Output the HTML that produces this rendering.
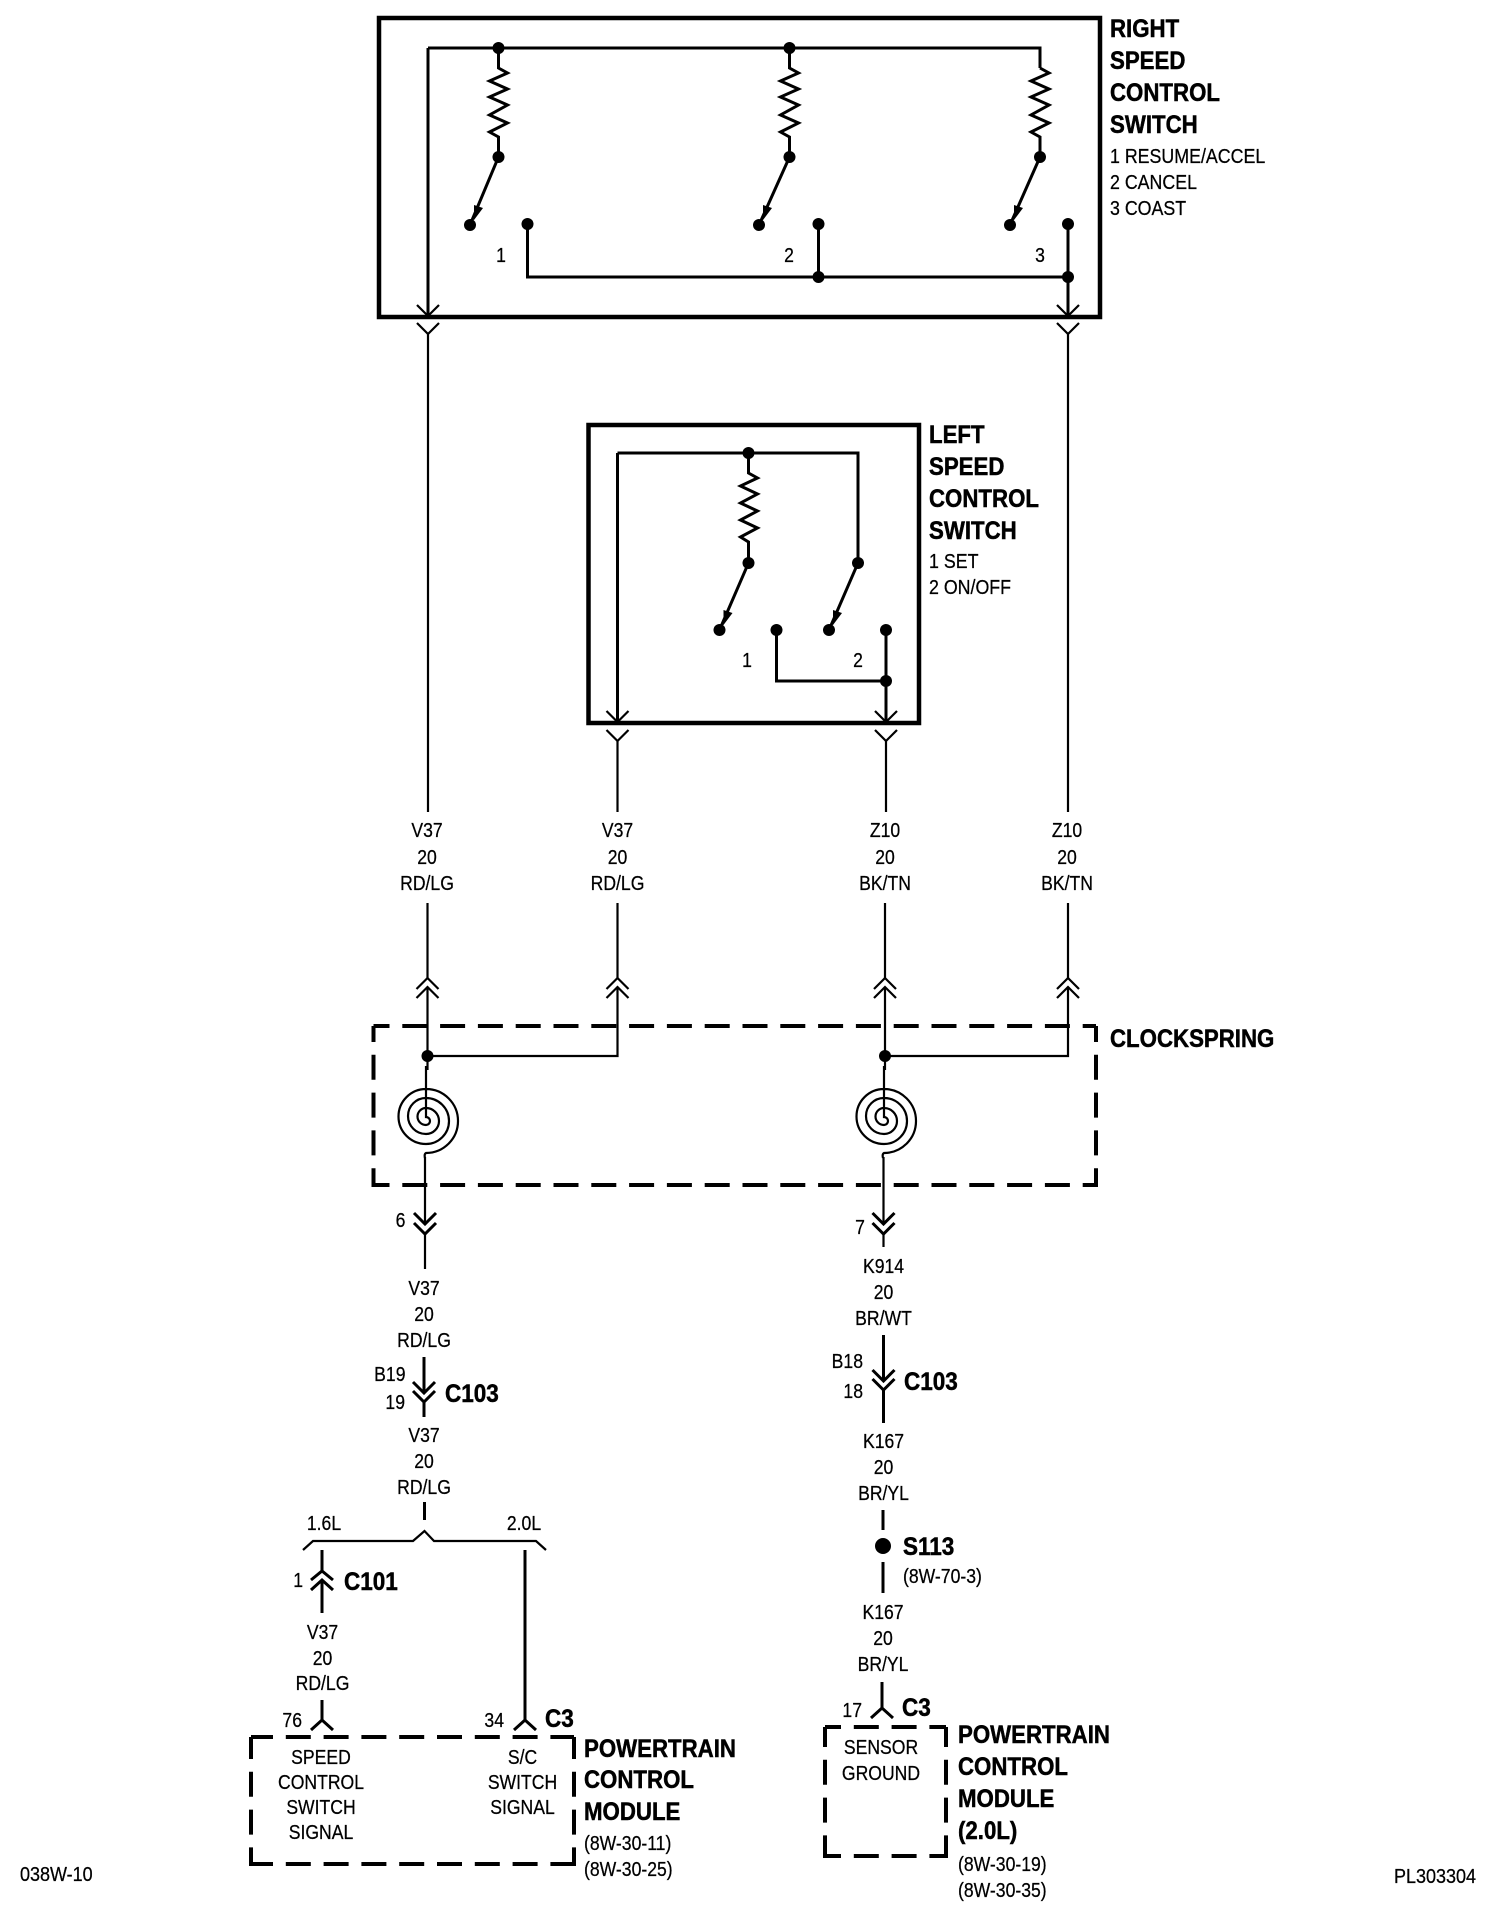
<!DOCTYPE html>
<html><head><meta charset="utf-8"><style>
html,body{margin:0;padding:0;background:#fff}
svg{display:block}
text{font-family:"Liberation Sans",sans-serif;font-size:20px;fill:#000;stroke:#000;stroke-width:.25}
.b{font-weight:bold;font-size:25px;stroke:#000;stroke-width:.5}
.m{text-anchor:middle}
.e{text-anchor:end}
.w{fill:none;stroke:#000;stroke-width:2.2}
.h{fill:none;stroke:#000;stroke-width:3}
.x{fill:none;stroke:#000;stroke-width:4.5}
.d{fill:none;stroke:#000;stroke-width:4;stroke-dasharray:25 12.8}
</style></head><body>
<svg width="1504" height="1920" viewBox="0 0 1504 1920" xmlns="http://www.w3.org/2000/svg">
<defs>
<g id="n"><circle r="6" fill="#000"/></g>
<path id="y" class="w" d="M-11,0L0,11L11,0"/>
<polygon id="ah" points="4,-5 4,-20 13,-17" fill="#000"/>
<path id="sp" class="w" d="M-2,-55V-4A4,4 0 0 1 -2,4A8.5,8.5 0 0 1 -2,-13A13,13 0 0 1 -2,13A18,18 0 0 1 -2,-23A23,23 0 0 1 -2,23A27.5,27.5 0 0 1 -2,-32A32,32 0 0 1 -2,32Q-4,33 -3,37"/>
</defs>

<!-- Right switch -->
<rect x="379" y="18" width="721" height="299" class="x"/>
<path class="h" d="M428,48H1040V68M428,48V316"/>
<path class="h" d="M498.5,48V68L507.5,73L489.5,81L507.5,89L489.5,97L507.5,105L489.5,115L507.5,123L489.5,132L498.5,137V157L470,225"/>
<path class="h" d="M789.5,48V68L798.5,73L780.5,81L798.5,89L780.5,97L798.5,105L780.5,115L798.5,123L780.5,132L789.5,137V157L759,225"/>
<path class="h" d="M1040,68L1049,73L1031,81L1049,89L1031,97L1049,105L1031,115L1049,123L1031,132L1040,137V157L1010,225"/>
<use href="#n" x="498.5" y="48"/><use href="#n" x="789.5" y="48"/>
<use href="#n" x="498.5" y="157"/><use href="#n" x="789.5" y="157"/><use href="#n" x="1040" y="157"/>
<use href="#n" x="470" y="225"/><use href="#n" x="759" y="225"/><use href="#n" x="1010" y="225"/>
<use href="#ah" x="470" y="225"/><use href="#ah" x="759" y="225"/><use href="#ah" x="1010" y="225"/>
<use href="#n" x="527.5" y="224"/><use href="#n" x="818.5" y="224"/><use href="#n" x="1068" y="224"/>
<path class="h" d="M527.5,224V277H1068M818.5,224V277M1068,224V316"/>
<use href="#n" x="818.5" y="277"/><use href="#n" x="1068" y="277"/>
<use href="#y" x="428" y="305"/><use href="#y" x="1068" y="305"/>
<use href="#y" x="428" y="323"/><use href="#y" x="1068" y="323"/>
<path class="w" d="M428,334V812M1068,334V812"/>
<text transform="translate(501,262) scale(.88,1)" class="m">1</text>
<text transform="translate(789,262) scale(.88,1)" class="m">2</text>
<text transform="translate(1040,262) scale(.88,1)" class="m">3</text>
<text transform="translate(1110,37) scale(.89,1)" class="b">RIGHT</text>
<text transform="translate(1110,69) scale(.89,1)" class="b">SPEED</text>
<text transform="translate(1110,101) scale(.89,1)" class="b">CONTROL</text>
<text transform="translate(1110,133) scale(.89,1)" class="b">SWITCH</text>
<text transform="translate(1110,163) scale(.89,1)">1 RESUME/ACCEL</text>
<text transform="translate(1110,189) scale(.89,1)">2 CANCEL</text>
<text transform="translate(1110,215) scale(.89,1)">3 COAST</text>

<!-- Left switch -->
<rect x="588.5" y="425" width="330.5" height="298" class="x"/>
<path class="h" d="M617.5,453H858V563L829,630M617.5,453V723"/>
<path class="h" d="M748.5,453V473L757.5,478L740.5,486L757.5,494L740.5,503L757.5,511L740.5,520L757.5,528L740.5,537L748.5,542V563L719.5,630"/>
<use href="#n" x="748.5" y="453"/><use href="#n" x="748.5" y="563"/><use href="#n" x="858" y="563"/>
<use href="#n" x="719.5" y="630"/><use href="#n" x="829" y="630"/>
<use href="#ah" x="719.5" y="630"/><use href="#ah" x="829" y="630"/>
<use href="#n" x="776.5" y="630"/><use href="#n" x="886" y="630"/>
<path class="h" d="M776.5,630V681H886M886,630V723"/>
<use href="#n" x="886" y="681"/>
<use href="#y" x="617.5" y="711"/><use href="#y" x="886" y="711"/>
<use href="#y" x="617.5" y="730"/><use href="#y" x="886" y="730"/>
<path class="w" d="M617.5,741V812M886,741V812"/>
<text transform="translate(747,667) scale(.88,1)" class="m">1</text>
<text transform="translate(858,667) scale(.88,1)" class="m">2</text>
<text transform="translate(929,443) scale(.89,1)" class="b">LEFT</text>
<text transform="translate(929,475) scale(.89,1)" class="b">SPEED</text>
<text transform="translate(929,507) scale(.89,1)" class="b">CONTROL</text>
<text transform="translate(929,539) scale(.89,1)" class="b">SWITCH</text>
<text transform="translate(929,568) scale(.89,1)">1 SET</text>
<text transform="translate(929,594) scale(.89,1)">2 ON/OFF</text>

<!-- Wire labels upper -->
<text transform="translate(427,837) scale(.88,1)" class="m">V37</text>
<text transform="translate(427,864) scale(.88,1)" class="m">20</text>
<text transform="translate(427,890) scale(.88,1)" class="m">RD/LG</text>
<text transform="translate(617.5,837) scale(.88,1)" class="m">V37</text>
<text transform="translate(617.5,864) scale(.88,1)" class="m">20</text>
<text transform="translate(617.5,890) scale(.88,1)" class="m">RD/LG</text>
<text transform="translate(885,837) scale(.88,1)" class="m">Z10</text>
<text transform="translate(885,864) scale(.88,1)" class="m">20</text>
<text transform="translate(885,890) scale(.88,1)" class="m">BK/TN</text>
<text transform="translate(1067,837) scale(.88,1)" class="m">Z10</text>
<text transform="translate(1067,864) scale(.88,1)" class="m">20</text>
<text transform="translate(1067,890) scale(.88,1)" class="m">BK/TN</text>

<!-- Clockspring -->
<path class="w" d="M427.5,903V978M427.5,987V1070M617.5,903V978M617.5,987V1056H427.5M885,903V978M885,987V1070M1068,903V978M1068,987V1056H885"/>
<path class="w" d="M416.5,989L427.5,978L438.5,989M416.5,998L427.5,987L438.5,998"/>
<path class="w" d="M606.5,989L617.5,978L628.5,989M606.5,998L617.5,987L628.5,998"/>
<path class="w" d="M874,989L885,978L896,989M874,998L885,987L896,998"/>
<path class="w" d="M1057,989L1068,978L1079,989M1057,998L1068,987L1079,998"/>
<use href="#n" x="427.5" y="1056"/><use href="#n" x="885" y="1056"/>
<use href="#sp" x="428" y="1121"/><use href="#sp" x="886" y="1121"/>
<path class="d" style="stroke-dashoffset:9" d="M373.5,1026H1096"/>
<path class="d" style="stroke-dashoffset:9" d="M373.5,1185H1096"/>
<path class="d" style="stroke-dashoffset:9" d="M373.5,1026V1187"/>
<path class="d" style="stroke-dashoffset:9" d="M1096,1026V1187"/>
<path class="w" d="M425,1157V1224M425,1234V1269M883.5,1157V1224M883.5,1234V1247"/>
<path class="h" d="M414,1213L425,1224L436,1213M414,1223L425,1234L436,1223M872.5,1213L883.5,1224L894.5,1213M872.5,1223L883.5,1234L894.5,1223"/>
<text transform="translate(1110,1047) scale(.89,1)" class="b">CLOCKSPRING</text>
<text transform="translate(400.5,1227) scale(.88,1)" class="m">6</text>
<text transform="translate(860,1234) scale(.88,1)" class="m">7</text>

<!-- Left chain -->
<text transform="translate(424,1295) scale(.88,1)" class="m">V37</text>
<text transform="translate(424,1321) scale(.88,1)" class="m">20</text>
<text transform="translate(424,1347) scale(.88,1)" class="m">RD/LG</text>
<path class="h" d="M424,1357V1393M424,1402V1417M413,1382L424,1393L435,1382M413,1391L424,1402L435,1391"/>
<text transform="translate(405.5,1381) scale(.88,1)" class="e">B19</text>
<text transform="translate(405,1409) scale(.88,1)" class="e">19</text>
<text transform="translate(445,1402) scale(.9,1)" class="b">C103</text>
<text transform="translate(424,1442) scale(.88,1)" class="m">V37</text>
<text transform="translate(424,1468) scale(.88,1)" class="m">20</text>
<text transform="translate(424,1494) scale(.88,1)" class="m">RD/LG</text>
<path class="h" d="M424.5,1502V1520"/>

<!-- Bracket -->
<path class="w" d="M303,1550L313,1541H413L424.5,1531L434,1541H536L546,1550"/>
<text transform="translate(324,1530) scale(.88,1)" class="m">1.6L</text>
<text transform="translate(524,1530) scale(.88,1)" class="m">2.0L</text>

<!-- C101 -->
<path class="h" d="M322,1550V1571M322,1580V1613M311,1580L322,1571L333,1580M311,1590L322,1580L333,1590"/>
<text transform="translate(303,1587) scale(.88,1)" class="e">1</text>
<text transform="translate(344,1590) scale(.9,1)" class="b">C101</text>
<text transform="translate(322.5,1639) scale(.88,1)" class="m">V37</text>
<text transform="translate(322.5,1665) scale(.88,1)" class="m">20</text>
<text transform="translate(322.5,1690) scale(.88,1)" class="m">RD/LG</text>
<path class="h" d="M322,1700V1720M311,1730L322,1720L333,1730"/>
<path class="h" d="M525,1550V1720M514,1730L525,1720L536,1730"/>
<text transform="translate(302,1727) scale(.88,1)" class="e">76</text>
<text transform="translate(504,1727) scale(.88,1)" class="e">34</text>
<text transform="translate(545,1727) scale(.9,1)" class="b">C3</text>

<!-- PCM left -->
<path class="d" style="stroke-dashoffset:3" d="M251,1737H574"/>
<path class="d" style="stroke-dashoffset:3" d="M251,1864H574"/>
<path class="d" style="stroke-dashoffset:3" d="M251,1737V1866"/>
<path class="d" style="stroke-dashoffset:3" d="M574,1737V1866"/>
<text transform="translate(321,1764) scale(.88,1)" class="m">SPEED</text>
<text transform="translate(321,1789) scale(.88,1)" class="m">CONTROL</text>
<text transform="translate(321,1814) scale(.88,1)" class="m">SWITCH</text>
<text transform="translate(321,1839) scale(.88,1)" class="m">SIGNAL</text>
<text transform="translate(522.5,1764) scale(.88,1)" class="m">S/C</text>
<text transform="translate(522.5,1789) scale(.88,1)" class="m">SWITCH</text>
<text transform="translate(522.5,1814) scale(.88,1)" class="m">SIGNAL</text>
<text transform="translate(584,1757) scale(.89,1)" class="b">POWERTRAIN</text>
<text transform="translate(584,1788) scale(.89,1)" class="b">CONTROL</text>
<text transform="translate(584,1820) scale(.89,1)" class="b">MODULE</text>
<text transform="translate(584,1850) scale(.88,1)">(8W-30-11)</text>
<text transform="translate(584,1876) scale(.88,1)">(8W-30-25)</text>

<!-- Right chain -->
<text transform="translate(883.5,1273) scale(.88,1)" class="m">K914</text>
<text transform="translate(883.5,1299) scale(.88,1)" class="m">20</text>
<text transform="translate(883.5,1325) scale(.88,1)" class="m">BR/WT</text>
<path class="h" d="M883.5,1335V1381M883.5,1390V1423M872.5,1370L883.5,1381L894.5,1370M872.5,1379L883.5,1390L894.5,1379"/>
<text transform="translate(863,1368) scale(.88,1)" class="e">B18</text>
<text transform="translate(863,1398) scale(.88,1)" class="e">18</text>
<text transform="translate(904,1390) scale(.9,1)" class="b">C103</text>
<text transform="translate(883.5,1448) scale(.88,1)" class="m">K167</text>
<text transform="translate(883.5,1474) scale(.88,1)" class="m">20</text>
<text transform="translate(883.5,1500) scale(.88,1)" class="m">BR/YL</text>
<path class="h" d="M883,1510V1530M883,1562V1593"/>
<circle cx="883" cy="1546" r="8" fill="#000"/>
<text transform="translate(903,1555) scale(.9,1)" class="b">S113</text>
<text transform="translate(903,1583) scale(.88,1)">(8W-70-3)</text>
<text transform="translate(883,1619) scale(.88,1)" class="m">K167</text>
<text transform="translate(883,1645) scale(.88,1)" class="m">20</text>
<text transform="translate(883,1671) scale(.88,1)" class="m">BR/YL</text>
<path class="h" d="M882,1682V1708M871,1718L882,1708L893,1718"/>
<text transform="translate(862,1717) scale(.88,1)" class="e">17</text>
<text transform="translate(902,1716) scale(.9,1)" class="b">C3</text>

<!-- PCM right -->
<path class="d" style="stroke-dashoffset:9" d="M825,1727H946"/>
<path class="d" style="stroke-dashoffset:9" d="M825,1856H946"/>
<path class="d" style="stroke-dashoffset:5" d="M825,1727V1858"/>
<path class="d" style="stroke-dashoffset:5" d="M946,1727V1858"/>
<text transform="translate(881,1754) scale(.88,1)" class="m">SENSOR</text>
<text transform="translate(881,1780) scale(.88,1)" class="m">GROUND</text>
<text transform="translate(958,1743) scale(.89,1)" class="b">POWERTRAIN</text>
<text transform="translate(958,1775) scale(.89,1)" class="b">CONTROL</text>
<text transform="translate(958,1807) scale(.89,1)" class="b">MODULE</text>
<text transform="translate(958,1839) scale(.89,1)" class="b">(2.0L)</text>
<text transform="translate(958,1871) scale(.88,1)">(8W-30-19)</text>
<text transform="translate(958,1897) scale(.88,1)">(8W-30-35)</text>

<!-- Footer -->
<text transform="translate(20,1881) scale(.9,1)">038W-10</text>
<text transform="translate(1476,1883) scale(.9,1)" class="e">PL303304</text>
</svg>
</body></html>
